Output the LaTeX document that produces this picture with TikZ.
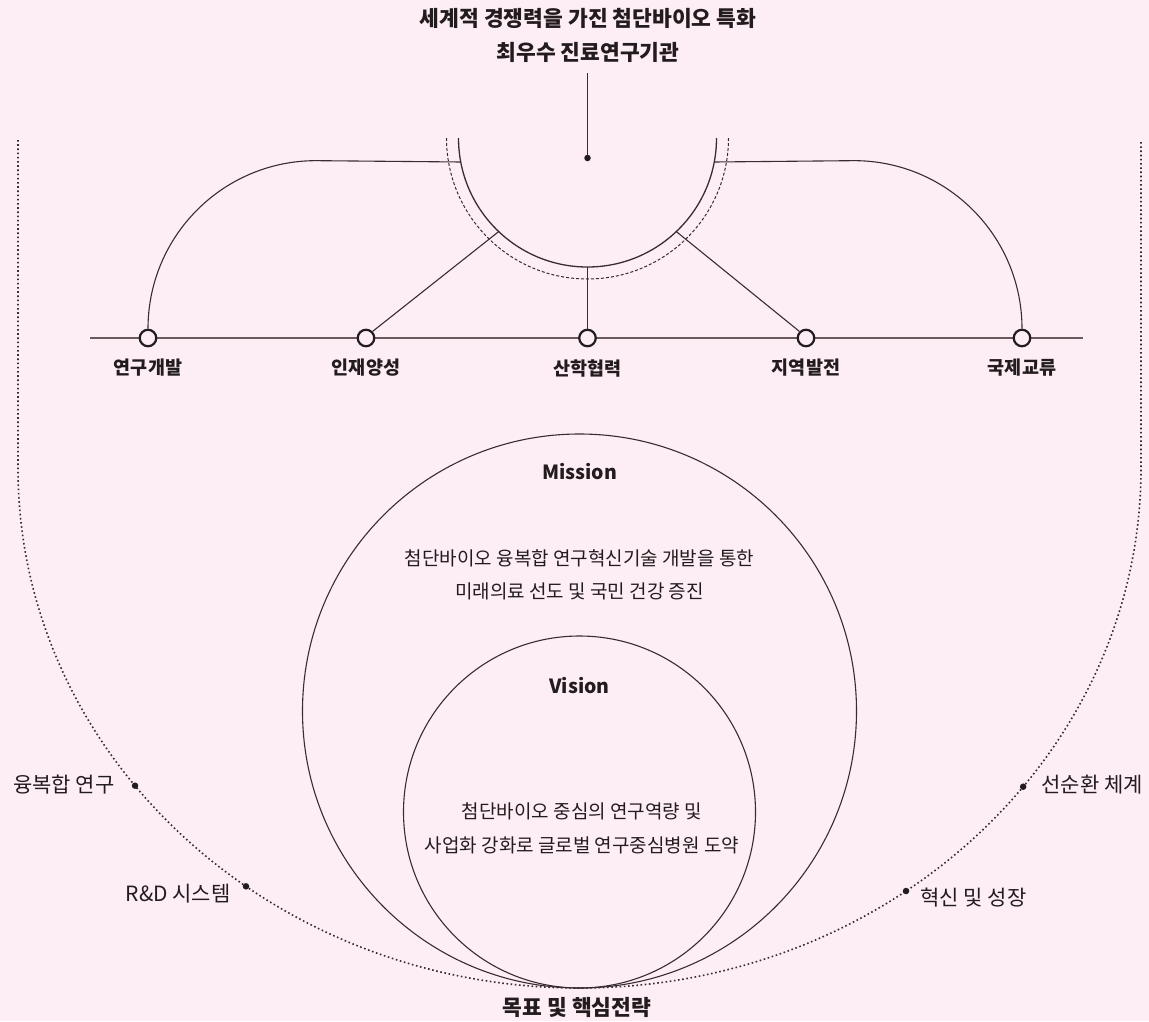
\documentclass[tikz,border=0pt]{standalone}
\usepackage{fontspec}
\setmainfont{Noto Sans CJK KR}
\usetikzlibrary{calc}
\definecolor{bgpink}{RGB}{253,238,245}
\definecolor{ink}{RGB}{35,28,30}
\definecolor{linec}{RGB}{55,45,48}
\definecolor{basec}{RGB}{105,90,94}
\tikzset{
  thinln/.style={draw=linec,line width=1.1pt},
  baseln/.style={draw=basec,line width=2.2pt},
  stop/.style={circle,draw=ink,line width=2.2pt,fill=bgpink,minimum size=16.5pt,inner sep=0pt},
  bigdot/.style={circle,fill=ink,minimum size=6.5pt,inner sep=0pt},
  boldlbl/.style={text=ink,font=\bfseries\fontsize{18.5}{22}\selectfont},
  titlelbl/.style={text=ink,font=\bfseries\fontsize{21.5}{34}\selectfont,align=center},
  headlbl/.style={text=ink,font=\bfseries\fontsize{19.5}{22}\selectfont},
  bodylbl/.style={text=ink,font=\fontsize{19}{33.5}\selectfont,align=center},
  sidelbl/.style={text=ink,font=\fontsize{21}{24}\selectfont},
  dotln/.style={draw=linec,line width=1.6pt,dash pattern=on 1.6pt off 2.6pt},
  dashln/.style={draw=linec,line width=1pt,dash pattern=on 3pt off 2pt},
}
\begin{document}
\begin{tikzpicture}[x=1pt,y=-1pt]
\fill[bgpink] (0,0) rectangle (1149,1021);
\useasboundingbox (0,0) rectangle (1149,1021);

% title
\node[titlelbl] (title) at (588,35) {세계적 경쟁력을 가진 첨단바이오 특화\\최우수 진료연구기관};
\coordinate (tl) at (587.5,73);
\node[bigdot] (cdot) at (587.5,158) {};
\draw[thinln] (tl) -- (cdot);

% semicircle
\coordinate (C) at (587.5,138);
\draw[thinln,line width=1.3pt] (458.5,138) arc[start angle=180,end angle=360,radius=129pt];
\draw[dashln] (446.5,138) arc[start angle=180,end angle=360,radius=141pt];
\coordinate (lh) at ($(C)+(190.72:129pt)$);
\coordinate (rh) at ($(C)+(-10.72:129pt)$);
\coordinate (la) at ($(C)+(226.5:129pt)$);
\coordinate (ra) at ($(C)+(313.5:129pt)$);
\coordinate (ba) at ($(C)+(270:129pt)$);

% baseline
\draw[baseln] (90,338) -- (1083,338);
\node[stop] (n1) at (148,338) {};
\node[stop] (n2) at (366,338) {};
\node[stop] (n3) at (587.5,338) {};
\node[stop] (n4) at (806,338) {};
\node[stop] (n5) at (1022,338) {};

\draw[thinln] (n1.north) arc[start angle=180,end angle=90,radius=168pt] -- (lh);
\draw[thinln] (n5.north) arc[start angle=0,end angle=90,radius=168pt] -- (rh);
\draw[thinln] (n2.north east) -- (la);
\draw[thinln] (n4.north west) -- (ra);
\draw[thinln] (n3.north) -- (ba);

\node[boldlbl] (l1) at (148,368) {연구개발};
\node[boldlbl] (l2) at (366,368) {인재양성};
\node[boldlbl] (l3) at (587.5,368) {산학협력};
\node[boldlbl] (l4) at (806,368) {지역발전};
\node[boldlbl] (l5) at (1022,368) {국제교류};

% big dotted U
\coordinate (E) at (579.5,468);
\draw[dotln] (18,140) -- (18,468) arc[start angle=180,end angle=360,x radius=561.5pt,y radius=520pt] -- (1141,140);

\node[bigdot] (d1) at ($(E)+(217.66:561.5pt and 520pt)$) {};
\node[bigdot] (d2) at ($(E)+(233.56:561.5pt and 520pt)$) {};
\node[bigdot] (d3) at ($(E)+(322.2:561.5pt and 520pt)$) {};
\node[bigdot] (d4) at ($(E)+(305.56:561.5pt and 520pt)$) {};

\node[sidelbl,anchor=east] (s1) at (118,785) {융복합 연구};
\node[sidelbl,anchor=east] (s2) at (234,894) {R\&D 시스템};
\node[sidelbl,anchor=west] (s3) at (1038,785) {선순환 체계};
\node[sidelbl,anchor=west] (s4) at (917,898) {혁신 및 성장};

% circles
\draw[thinln] (579.5,711) circle[radius=277pt];
\draw[thinln] (579.5,812) circle[radius=176pt];

\node[headlbl] (mis) at (579.5,472) {Mission};
\node[bodylbl] (mt) at (579.5,575) {첨단바이오 융복합 연구혁신기술 개발을 통한\\미래의료 선도 및 국민 건강 증진};
\node[headlbl] (vis) at (579.5,686) {Vision};
\node[bodylbl] (vt) at (582,828.5) {첨단바이오 중심의 연구역량 및\\사업화 강화로 글로벌 연구중심병원 도약};

\node[titlelbl] (goal) at (577,1007) {목표 및 핵심전략};
\end{tikzpicture}
\end{document}
